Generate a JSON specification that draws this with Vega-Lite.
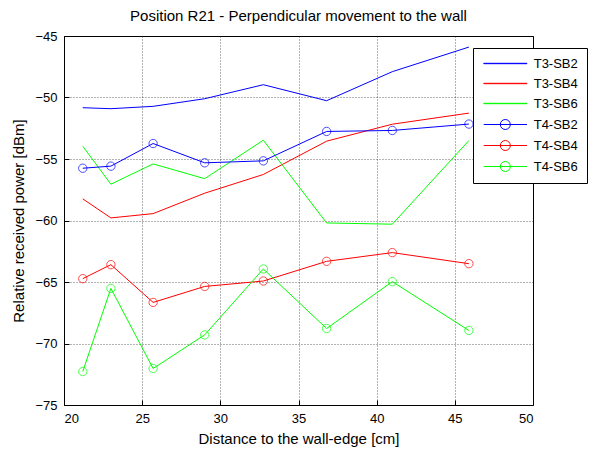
{
  "$schema": "https://vega.github.io/schema/vega-lite/v6.json",
  "width": 469,
  "height": 369,
  "autosize": {"type": "none"},
  "padding": {"left": 64, "top": 36, "right": 57, "bottom": 53},
  "background": "white",
  "title": {"text": "Position R21 - Perpendicular movement to the wall", "fontSize": 15, "font": "Liberation Sans", "fontWeight": "normal", "color": "#000", "offset": 6},
  "config": {
    "view": {"stroke": "#000", "strokeWidth": 1},
    "axis": {
      "domain": false,
      "grid": true,
      "gridColor": "#000",
      "gridOpacity": 0.6,
      "gridDash": [1, 2],
      "tickColor": "#000",
      "tickSize": -5,
      "labelFont": "Liberation Sans",
      "labelFontSize": 13,
      "labelColor": "#000",
      "titleFont": "Liberation Sans",
      "titleFontSize": 15,
      "titleFontWeight": "normal",
      "titleColor": "#000"
    }
  },
  "data": {"values": [
    {"x": 21.2, "y": -50.83, "s": "T3-SB2"},
    {"x": 23.0, "y": -50.91, "s": "T3-SB2"},
    {"x": 25.7, "y": -50.72, "s": "T3-SB2"},
    {"x": 29.0, "y": -50.1, "s": "T3-SB2"},
    {"x": 32.75, "y": -48.96, "s": "T3-SB2"},
    {"x": 36.8, "y": -50.26, "s": "T3-SB2"},
    {"x": 41.0, "y": -47.9, "s": "T3-SB2"},
    {"x": 45.9, "y": -45.9, "s": "T3-SB2"},
    {"x": 21.2, "y": -58.24, "s": "T3-SB4"},
    {"x": 23.0, "y": -59.79, "s": "T3-SB4"},
    {"x": 25.7, "y": -59.44, "s": "T3-SB4"},
    {"x": 29.0, "y": -57.78, "s": "T3-SB4"},
    {"x": 32.75, "y": -56.26, "s": "T3-SB4"},
    {"x": 36.8, "y": -53.55, "s": "T3-SB4"},
    {"x": 41.0, "y": -52.17, "s": "T3-SB4"},
    {"x": 45.9, "y": -51.27, "s": "T3-SB4"},
    {"x": 21.2, "y": -53.96, "s": "T3-SB6"},
    {"x": 23.0, "y": -57.05, "s": "T3-SB6"},
    {"x": 25.7, "y": -55.4, "s": "T3-SB6"},
    {"x": 29.0, "y": -56.6, "s": "T3-SB6"},
    {"x": 32.75, "y": -53.47, "s": "T3-SB6"},
    {"x": 36.8, "y": -60.2, "s": "T3-SB6"},
    {"x": 41.0, "y": -60.3, "s": "T3-SB6"},
    {"x": 45.9, "y": -53.5, "s": "T3-SB6"},
    {"x": 21.2, "y": -55.75, "s": "T4-SB2"},
    {"x": 23.0, "y": -55.58, "s": "T4-SB2"},
    {"x": 25.7, "y": -53.74, "s": "T4-SB2"},
    {"x": 29.0, "y": -55.31, "s": "T4-SB2"},
    {"x": 32.75, "y": -55.15, "s": "T4-SB2"},
    {"x": 36.8, "y": -52.76, "s": "T4-SB2"},
    {"x": 41.0, "y": -52.68, "s": "T4-SB2"},
    {"x": 45.9, "y": -52.16, "s": "T4-SB2"},
    {"x": 21.2, "y": -64.73, "s": "T4-SB4"},
    {"x": 23.0, "y": -63.59, "s": "T4-SB4"},
    {"x": 25.7, "y": -66.66, "s": "T4-SB4"},
    {"x": 29.0, "y": -65.36, "s": "T4-SB4"},
    {"x": 32.75, "y": -64.92, "s": "T4-SB4"},
    {"x": 36.8, "y": -63.32, "s": "T4-SB4"},
    {"x": 41.0, "y": -62.61, "s": "T4-SB4"},
    {"x": 45.9, "y": -63.51, "s": "T4-SB4"},
    {"x": 21.2, "y": -72.28, "s": "T4-SB6"},
    {"x": 23.0, "y": -65.52, "s": "T4-SB6"},
    {"x": 25.7, "y": -72.03, "s": "T4-SB6"},
    {"x": 29.0, "y": -69.3, "s": "T4-SB6"},
    {"x": 32.75, "y": -63.94, "s": "T4-SB6"},
    {"x": 36.8, "y": -68.78, "s": "T4-SB6"},
    {"x": 41.0, "y": -64.97, "s": "T4-SB6"},
    {"x": 45.9, "y": -68.94, "s": "T4-SB6"}
  ]},
  "resolve": {"legend": {"color": "independent", "shape": "independent"}},
  "layer": [
    {
      "mark": {"type": "line", "strokeWidth": 1},
      "encoding": {
        "x": {"field": "x", "type": "quantitative", "scale": {"domain": [20, 50], "nice": false}, "axis": {"values": [20, 25, 30, 35, 40, 45, 50], "title": "Distance to the wall-edge [cm]", "labelPadding": 12, "titlePadding": 6}},
        "y": {"field": "y", "type": "quantitative", "scale": {"domain": [-75, -45], "nice": false, "zero": false}, "axis": {"values": [-75, -70, -65, -60, -55, -50, -45], "title": "Relative received power [dBm]", "labelPadding": 12, "titlePadding": 8}},
        "color": {"field": "s", "type": "nominal", "scale": {"domain": ["T3-SB2", "T3-SB4", "T3-SB6", "T4-SB2", "T4-SB4", "T4-SB6"], "range": ["#0000ff", "#ff0000", "#00ff00", "#0000ff", "#ff0000", "#00ff00"]}, "legend": null}
      }
    },
    {
      "transform": [{"filter": "indexof(datum.s, 'T4') == 0"}],
      "mark": {"type": "point", "filled": false, "size": 70, "strokeWidth": 1, "shape": "circle"},
      "encoding": {
        "x": {"field": "x", "type": "quantitative"},
        "y": {"field": "y", "type": "quantitative"},
        "color": {"field": "s", "type": "nominal", "legend": null}
      }
    },
    {
      "mark": {"type": "point", "filled": false, "opacity": 0, "strokeWidth": 1},
      "encoding": {
        "x": {"field": "x", "type": "quantitative"},
        "y": {"field": "y", "type": "quantitative"},
        "color": {"field": "s", "type": "nominal", "legend": {"orient": "none", "legendX": 409, "legendY": 12, "title": null, "strokeColor": "#000", "fillColor": "#fff", "padding": 9, "symbolSize": 100, "symbolStrokeWidth": 1, "symbolOpacity": 1, "labelFont": "Liberation Sans", "labelFontSize": 13, "labelColor": "#000", "rowPadding": 6, "labelOffset": 38.7}},
        "shape": {"field": "s", "type": "nominal", "scale": {"domain": ["T3-SB2", "T3-SB4", "T3-SB6", "T4-SB2", "T4-SB4", "T4-SB6"], "range": ["M-0.96,-0.04H7.7V0.04H-0.96Z", "M-0.96,-0.04H7.7V0.04H-0.96Z", "M-0.96,-0.04H7.7V0.04H-0.96Z", "M-0.96,0H7.7M2.36,0A1,1 0 1,1 4.36,0A1,1 0 1,1 2.36,0", "M-0.96,0H7.7M2.36,0A1,1 0 1,1 4.36,0A1,1 0 1,1 2.36,0", "M-0.96,0H7.7M2.36,0A1,1 0 1,1 4.36,0A1,1 0 1,1 2.36,0"]}, "legend": {"orient": "none", "legendX": 409, "legendY": 12, "title": null, "strokeColor": "#000", "fillColor": "#fff", "padding": 9, "symbolSize": 100, "symbolStrokeWidth": 1, "symbolOpacity": 1, "labelFont": "Liberation Sans", "labelFontSize": 13, "labelColor": "#000", "rowPadding": 6, "labelOffset": 38.7}}
      }
    }
  ]
}
